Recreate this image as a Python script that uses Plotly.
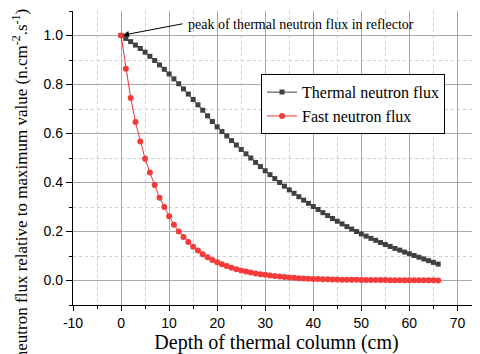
import plotly.graph_objects as go

depth = list(range(0, 67))

thermal = [
    1.000, 0.988, 0.975, 0.961, 0.947, 0.932,
    0.915, 0.898, 0.880, 0.862, 0.843,
    0.823, 0.803, 0.782, 0.761, 0.739,
    0.717, 0.695, 0.672, 0.649, 0.627,
    0.608, 0.590, 0.571, 0.553, 0.535,
    0.517, 0.500, 0.482, 0.465, 0.448,
    0.432, 0.416, 0.400, 0.385, 0.370,
    0.356, 0.342, 0.328, 0.315, 0.302,
    0.290, 0.277, 0.265, 0.253, 0.242,
    0.231, 0.220, 0.210, 0.200, 0.190,
    0.181, 0.172, 0.164, 0.155, 0.147,
    0.139, 0.131, 0.124, 0.116, 0.109,
    0.102, 0.095, 0.088, 0.081, 0.074,
    0.067,
]

fast = [
    1.000, 0.864, 0.745, 0.647, 0.567, 0.497,
    0.441, 0.390, 0.338, 0.300, 0.262,
    0.228, 0.200, 0.178, 0.157, 0.138,
    0.122, 0.107, 0.095, 0.084, 0.074,
    0.066, 0.059, 0.052, 0.046, 0.041,
    0.037, 0.033, 0.029, 0.026, 0.023,
    0.020, 0.018, 0.016, 0.014, 0.012,
    0.011, 0.009, 0.008, 0.007, 0.006,
    0.006, 0.005, 0.005, 0.004, 0.004,
    0.003, 0.003, 0.003, 0.003, 0.002,
    0.002, 0.002, 0.002, 0.002, 0.002,
    0.001, 0.001, 0.001, 0.001, 0.001,
    0.001, 0.001, 0.001, 0.001, 0.001,
    0.000,
]

x_ticks = [-10, 0, 10, 20, 30, 40, 50, 60, 70]
y_ticks = [0.0, 0.2, 0.4, 0.6, 0.8, 1.0]

serif = "Times New Roman, Liberation Serif, serif"
sans = "Arial, Liberation Sans, sans-serif"

fig = go.Figure()
fig.add_trace(go.Scatter(
    x=depth, y=thermal, mode="lines+markers", name="Thermal neutron flux",
    line=dict(color="#404040", width=1),
    marker=dict(symbol="square", size=5, color="#404040"),
))
fig.add_trace(go.Scatter(
    x=depth, y=fast, mode="lines+markers", name="Fast neutron flux",
    line=dict(color="#f03030", width=1),
    marker=dict(symbol="circle", size=6, color="#f53a3a"),
))

# page body has an 8px default margin, so the figure is 8px smaller
fig.update_layout(
    width=472, height=346,
    margin=dict(l=65, r=0, t=3, b=49),
    paper_bgcolor="white", plot_bgcolor="white",
    font=dict(family=serif, color="black"),
    showlegend=True,
    legend=dict(
        x=0.462, y=0.785, xanchor="left", yanchor="top",
        bgcolor="white", bordercolor="black", borderwidth=1,
        font=dict(family=serif, size=16, color="black"),
        tracegroupgap=0, itemwidth=30,
    ),
    xaxis=dict(
        range=[-10, 74.7], tickvals=x_ticks, ticktext=[str(v) for v in x_ticks],
        showline=True, linecolor="black", linewidth=1.3,
        ticks="outside", ticklen=5, tickcolor="black", tickwidth=1.2,
        showgrid=True, gridcolor="#a8a8a8", gridwidth=1,
        zeroline=False,
        tickfont=dict(family=sans, size=14, color="black"),
        minor=dict(dtick=5, tick0=-5, ticks="outside", ticklen=3, tickcolor="black",
                   showgrid=True, gridcolor="#cccccc", griddash="dot", gridwidth=1),
        title=dict(text="Depth of thermal column (cm)",
                   font=dict(family=serif, size=20, color="black"), standoff=5),
    ),
    yaxis=dict(
        range=[-0.1, 1.1], tickvals=y_ticks, ticktext=["%.1f" % v for v in y_ticks],
        showline=True, linecolor="black", linewidth=1.3,
        ticks="outside", ticklen=6, tickcolor="black", tickwidth=1.2,
        showgrid=True, gridcolor="#a8a8a8", gridwidth=1,
        zeroline=False,
        tickfont=dict(family=sans, size=14, color="black"),
        minor=dict(dtick=0.1, tick0=0.1, ticks="outside", ticklen=3, tickcolor="black",
                   showgrid=True, gridcolor="#cccccc", griddash="dot", gridwidth=1),
    ),
)

fig.add_annotation(
    text="neutron flux relative to maximum value (n.cm<sup>-2</sup>.s<sup>-1</sup>)",
    xref="paper", yref="paper", x=(20 - 73) / 407, y=(304.7 - 184) / 293.7,
    xanchor="center", yanchor="middle",
    textangle=-90, showarrow=False,
    font=dict(family=serif, size=17, color="black"),
)

fig.add_annotation(
    text="peak of thermal neutron flux in reflector",
    xref="paper", yref="paper", x=(186 - 73) / 407, y=(304.7 - 24) / 293.7,
    xanchor="left", yanchor="middle", showarrow=False,
    font=dict(family=serif, size=14, color="black"),
)
fig.add_annotation(
    x=depth[0], y=thermal[0], xref="x", yref="y", text="",
    showarrow=True, ax=63, ay=-12, arrowhead=2, arrowsize=1.2, arrowwidth=1,
    arrowcolor="black", standoff=2,
)

fig.write_html("out.html")
